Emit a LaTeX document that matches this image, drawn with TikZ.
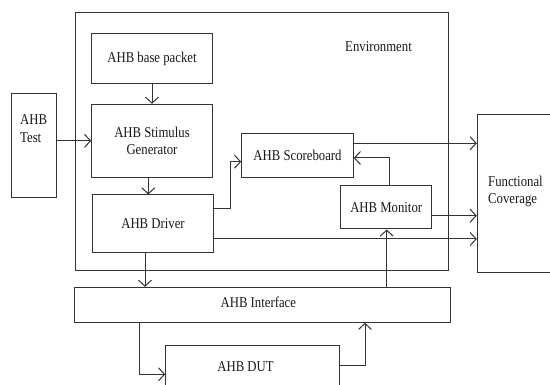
\documentclass[tikz,border=0pt]{standalone}
\usepackage{fontspec}
\setmainfont[FakeStretch=0.85]{Liberation Serif}
\usetikzlibrary{arrows.meta}
\begin{document}
\begin{tikzpicture}[x=1pt,y=-1pt,
  box/.style={draw=black!80, line width=1pt, inner sep=0pt, fill=white},
  txt/.style={inner sep=0pt, font=\fontsize{15}{17.5}\selectfont, text=black!90},
  arr/.style={draw=black!80, line width=1pt, -{Straight Barb[length=6pt,width=13pt,line width=1pt]}},
  every node/.append style={font=\fontsize{15}{17.5}\selectfont, text=black!90}]
\fill[white] (0,0) rectangle (550,385);
\useasboundingbox (0,0) rectangle (550,385);
\clip (0,0) rectangle (550,385);
% boxes
\node[box, minimum width=372.6pt, minimum height=258pt, fill=none] (env) at (262,141.3) {};
\node[txt] (envl) at (378.5,46.7) {Environment};
\node[box, minimum width=120.6pt, minimum height=50.3pt] (base) at (152,58.85) {AHB base packet};
\node[box, minimum width=120.6pt, minimum height=73pt, align=center] (stim) at (152,140.8) {AHB Stimulus\\Generator};
\node[box, minimum width=44.6pt, minimum height=103.6pt] (test) at (34,145.5) {};
\node[txt, anchor=west, align=left] (testl) at (20,128.5) {AHB\\Test};
\node[box, minimum width=120.6pt, minimum height=57.3pt] (drv) at (153,223.65) {AHB Driver};
\node[box, minimum width=111.6pt, minimum height=44pt] (sb) at (297.5,155.3) {AHB Scoreboard};
\node[box, minimum width=91pt, minimum height=43pt] (mon) at (386.2,207.5) {AHB Monitor};
\node[box, minimum width=87.7pt, minimum height=158.4pt] (fc) at (521.15,193.5) {};
\node[txt, anchor=west, align=left] (fcl) at (488,191.5) {Functional\\Coverage};
\node[box, minimum width=376pt, minimum height=35pt] (intf) at (262.7,304.8) {};
\node[txt] (intfl) at (258.3,302) {AHB Interface};
\node[box, minimum width=173.6pt, minimum height=54.7pt] (dut) at (252.5,372.65) {};
\node[txt] (dutl) at (245.5,366.7) {AHB DUT};
% connectors
\draw[arr] (base.south) -- (stim.north);
\draw[arr] (test.east |- stim.west) -- (stim.west);
\draw[arr] (stim.south -| 148.3,0) -- (drv.north -| 148.3,0);
\draw[arr] (drv.east |- 0,209) -- (230.7,209) |- (sb.west |- 0,161.7);
\draw[arr] (mon.north -| 389.3,0) |- (sb.east |- 0,158);
\draw[arr] (sb.east |- 0,143.3) -- (fc.west |- 0,143.3);
\draw[arr] (mon.east |- 0,215.7) -- (fc.west |- 0,215.7);
\draw[arr] (drv.east |- 0,239) -- (fc.west |- 0,239);
\draw[arr] (drv.south -| 145,0) -- (intf.north -| 145,0);
\draw[arr] (intf.south -| 139.7,0) |- (dut.west |- 0,374.3);
\draw[arr] (dut.east |- 0,365.7) -| (intf.south -| 365,0);
\draw[arr] (intf.north -| 386.7,0) -- (mon.south -| 386.7,0);
\end{tikzpicture}
\end{document}
